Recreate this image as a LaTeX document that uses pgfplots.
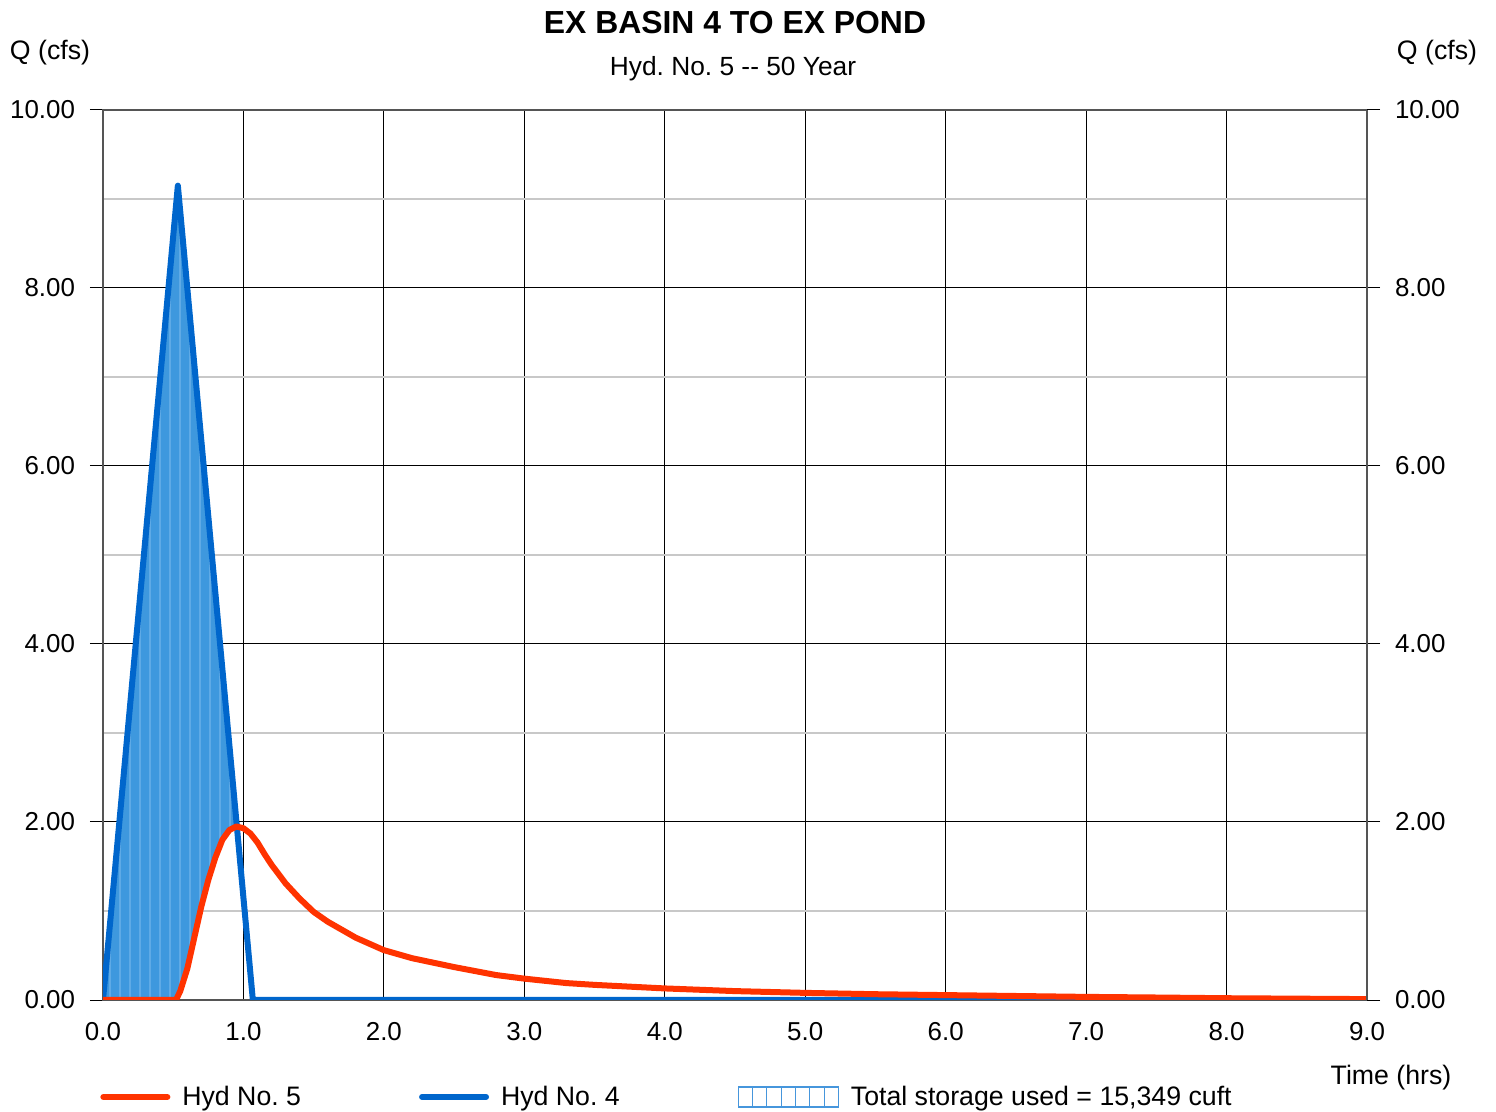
\documentclass[border=0pt]{standalone}
\usepackage{fontspec}
\setmainfont{Liberation Sans}
\usepackage{pgfplots}
\pgfplotsset{compat=1.18}
\usepgfplotslibrary{fillbetween}
\usetikzlibrary{patterns.meta}
\frenchspacing

\definecolor{hydred}{RGB}{255,51,0}
\definecolor{hydblue}{RGB}{0,102,204}
\definecolor{storfill}{RGB}{62,152,222}
\definecolor{storstripe}{RGB}{95,170,230}
\definecolor{storline}{RGB}{70,150,220}
\definecolor{axgray}{RGB}{85,85,85}
\definecolor{mingrid}{RGB}{200,200,200}

% outflow hydrograph (Hyd No. 5)
\pgfplotstableread{
t q
0.00 0.00
0.52 0.00
0.55 0.10
0.60 0.35
0.65 0.70
0.70 1.05
0.75 1.35
0.80 1.60
0.85 1.80
0.90 1.91
0.95 1.95
1.00 1.93
1.05 1.87
1.10 1.77
1.15 1.64
1.20 1.52
1.30 1.31
1.40 1.14
1.50 0.99
1.60 0.88
1.80 0.70
2.00 0.56
2.20 0.47
2.50 0.37
2.80 0.28
3.00 0.24
3.30 0.19
3.50 0.17
4.00 0.13
4.50 0.10
5.00 0.08
5.50 0.065
6.00 0.055
6.50 0.045
7.00 0.035
7.50 0.028
8.00 0.020
8.50 0.015
9.00 0.010
}\hydfive

% inflow hydrograph (Hyd No. 4)
\pgfplotstableread{
t q
0.000 0.00
0.533 9.15
1.067 0.00
9.000 0.00
}\hydfour

\begin{document}
\begin{tikzpicture}
\begin{axis}[
  scale only axis,
  width=632bp, height=445bp,
  xmin=0, xmax=9, ymin=0, ymax=10,
  xtick={0,1,...,9},
  ytick={0,2,...,10},
  minor ytick={1,3,...,9},
  grid=both,
  major grid style={black, line width=0.5bp},
  minor grid style={mingrid, line width=1bp},
  axis line style={axgray, line width=1bp},
  ytick pos=left,
  xtick pos=bottom,
  tick align=outside,
  y tick style={black, line width=0.5bp},
  major tick length=6.5bp,
  minor tick length=0pt,
  x tick style={draw=none},
  /pgf/number format/assume math mode=true,
  ticklabel style={font=\fontsize{13}{15}\selectfont},
  yticklabel style={/pgf/number format/.cd, fixed, fixed zerofill, precision=2, /tikz/.cd, xshift=-4bp},
  xticklabel style={/pgf/number format/.cd, fixed, fixed zerofill, precision=1, /tikz/.cd, yshift=-1bp},
  legend columns=3,
  legend style={at={(axis description cs:-0.0024,-0.109)}, anchor=west, draw=none, fill=none,
    font=\fontsize{13.4}{15}\selectfont, inner sep=0pt,
    /tikz/every odd column/.append style={column sep=4bp},
    /tikz/every even column/.append style={column sep=57bp}},
  legend cell align=left,
]
\addplot[name path=inflow, draw=none, forget plot] table[x=t, y=q] {\hydfour};
\addplot[name path=outflow, draw=none, forget plot] table[x=t, y=q] {\hydfive};
\addplot[fill=storfill, postaction={pattern={Lines[angle=90, distance=5bp, line width=0.6bp]}, pattern color=storstripe}, forget plot]
  fill between[of=inflow and outflow, soft clip={domain=0:0.953}];
\addplot[hydblue, line width=3bp, line join=round, forget plot] table[x=t, y=q] {\hydfour};
\addplot[hydred, line width=3bp, line join=round, forget plot] table[x=t, y=q] {\hydfive};

\addlegendimage{legend image code/.code={\draw[hydred, line width=3bp, line cap=round] (0,0) -- (32bp,0);}}
\addlegendentry{Hyd No. 5}
\addlegendimage{legend image code/.code={\draw[hydblue, line width=3bp, line cap=round] (0,0) -- (32bp,0);}}
\addlegendentry{Hyd No. 4}
\addlegendimage{legend image code/.code={
  \foreach \k in {1,...,6} {\draw[storline, line width=0.5bp] (\k*7.14bp,-5bp) -- (\k*7.14bp,5bp);}
  \draw[storline, line width=0.6bp] (0,-5bp) rectangle (50bp,5bp);}}
\addlegendentry{Total storage used = 15,349 cuft}
\end{axis}

\begin{axis}[
  scale only axis,
  width=632bp, height=445bp,
  xmin=0, xmax=9, ymin=0, ymax=10,
  axis x line=none,
  axis y line*=right,
  axis line style={axgray, line width=1bp},
  ytick={0,2,...,10},
  tick align=outside,
  major tick length=6.5bp,
  y tick style={black, line width=0.5bp},
  /pgf/number format/assume math mode=true,
  ticklabel style={font=\fontsize{13}{15}\selectfont},
  yticklabel style={/pgf/number format/.cd, fixed, fixed zerofill, precision=2, /tikz/.cd, xshift=4bp},
]
\end{axis}

\node[font=\bfseries\fontsize{16}{19}\selectfont] at (316bp,488.5bp) {EX BASIN 4 TO EX POND};
\node[font=\fontsize{13.2}{15}\selectfont] at (315bp,465.5bp) {Hyd. No. 5 {-}{-} 50 Year};
\node[font=\fontsize{13.4}{15}\selectfont] at (-26.5bp,473.5bp) {Q (cfs)};
\node[font=\fontsize{13.4}{15}\selectfont] at (667bp,473.5bp) {Q (cfs)};
\node[font=\fontsize{13.4}{15}\selectfont] at (644bp,-39bp) {Time (hrs)};

\pgfresetboundingbox
\path (-51.5bp,-56bp) rectangle (696.5bp,500bp);
\end{tikzpicture}
\end{document}
